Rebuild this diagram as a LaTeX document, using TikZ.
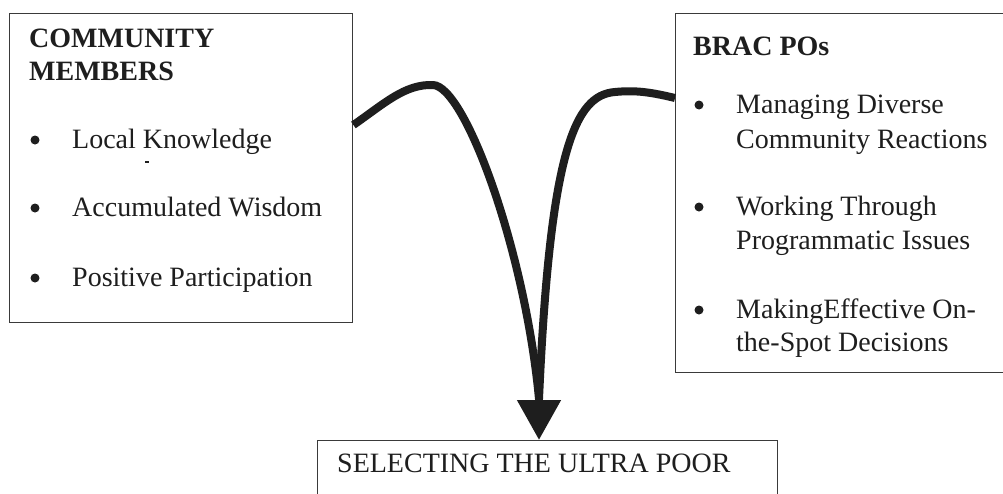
\documentclass[tikz,border=0pt]{standalone}
\usepackage{fontspec}
\setmainfont{Liberation Serif}
\usetikzlibrary{arrows.meta,calc}
\definecolor{ink}{HTML}{1E1E1E}
\definecolor{frame}{HTML}{3A3A3A}
\begin{document}
\begin{tikzpicture}[x=1pt,y=-1pt,
  box/.style={draw=frame,line width=1.4pt,inner sep=0pt,anchor=north west},
  txt/.style={anchor=base west,inner sep=0pt,text=ink,font=\fontsize{28}{34}\selectfont},
  ttl/.style={txt,font=\fontsize{28}{34}\selectfont\bfseries},
  dot/.style={circle,fill=ink,inner sep=0pt,minimum size=9pt},
  flow/.style={draw=ink,line width=8pt,line cap=butt}]
\useasboundingbox (0,0) rectangle (1003,493);
\clip (0,0) rectangle (1003,493);
\fill[white] (0,0) rectangle (1003,493);
% boxes
\node[box,minimum width=343pt,minimum height=309pt] (cm) at (9,13) {};
\node[box,minimum width=340pt,minimum height=359pt] (bp) at (675,13) {};
\node[box,minimum width=460pt,minimum height=90pt] (sel) at (317,440) {};
% left box text
\node[ttl] (t1) at (29,47) {COMMUNITY};
\node[ttl] (t2) at (29,80) {MEMBERS};
\node[dot] (b1) at (35,140) {};
\node[txt] (l1) at (72,148) {Local Knowledge};
\draw[ink,line width=1.2pt] (145,162) -- (149,162);
\node[dot] (b2) at (35,208) {};
\node[txt] (l2) at (72,216) {Accumulated Wisdom};
\node[dot] (b3) at (35,278) {};
\node[txt] (l3) at (72,286) {Positive Participation};
% right box text
\node[ttl] (r0) at (693,55) {BRAC POs};
\node[dot] (rb1) at (699,105) {};
\node[txt] (r1a) at (736,113) {Managing Diverse};
\node[txt] (r1b) at (736,148) {Community Reactions};
\node[dot] (rb2) at (699,207) {};
\node[txt] (r2a) at (736,215) {Working Through};
\node[txt] (r2b) at (736,249) {Programmatic Issues};
\node[dot] (rb3) at (699,310) {};
\node[txt] (r3a) at (736,318) {MakingEffective On-};
\node[txt] (r3b) at (736,351) {the-Spot Decisions};
% bottom text
\node[txt] (st) at (337,472) {SELECTING THE ULTRA POOR};
% connectors
\coordinate (s1) at (cm.east |- 0,125);
\coordinate (s2) at (bp.west |- 0,98);
\coordinate (join) at (539,399);
\draw[flow] (s1) .. controls (385,103) and (405,84) .. (433,85)
   .. controls (465,86) and (525,250) .. (join);
\draw[flow] (s2) .. controls (650,92) and (635,90) .. (615,92)
   .. controls (575,95) and (550,150) .. (join);
\draw[flow,-{Triangle[width=42pt,length=40pt]}] ($(join)+(0,-2)$) -- (join |- sel.north);
\end{tikzpicture}
\end{document}
